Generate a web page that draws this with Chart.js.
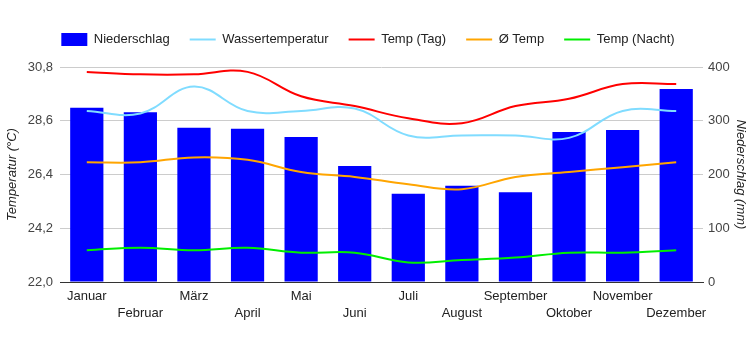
<!DOCTYPE html>
<html>
<head>
<meta charset="utf-8">
<script src="https://cdn.jsdelivr.net/npm/chart.js@4/dist/chart.umd.min.js"></script>
<style>
  html, body { margin: 0; padding: 0; background: #fff; }
  #wrap { width: 750px; height: 350px; }
</style>
</head>
<body>
<div id="wrap"><canvas id="klima"></canvas></div>
<script>
// Daten
const monate = ['Januar', 'Februar', 'März', 'April', 'Mai', 'Juni', 'Juli', 'August', 'September', 'Oktober', 'November', 'Dezember'];
const niederschlag = [324, 316, 287, 285, 270, 216, 164, 179, 167, 279, 283, 359];
const wassertemp = [29.0, 28.9, 30.0, 29.0, 29.0, 29.1, 28.0, 28.0, 28.0, 27.9, 29.0, 29.0];
const tempTag = [30.6, 30.5, 30.5, 30.6, 29.6, 29.2, 28.7, 28.5, 29.2, 29.5, 30.1, 30.1];
const tempMittel = [26.9, 26.9, 27.1, 27.0, 26.5, 26.3, 26.0, 25.8, 26.3, 26.5, 26.7, 26.9];
const tempNacht = [23.3, 23.4, 23.3, 23.4, 23.2, 23.2, 22.8, 22.9, 23.0, 23.2, 23.2, 23.3];
const tempTicks = [22.0, 24.2, 26.4, 28.6, 30.8];
const mmTicks = [0, 100, 200, 300, 400];

const schrift = 'Arial, "Liberation Sans", sans-serif';

function linie(label, data, farbe) {
    return {
        type: 'line',
        label: label,
        data: data,
        yAxisID: 'yTemp',
        borderColor: farbe,
        backgroundColor: farbe,
        borderWidth: 2,
        pointRadius: 0,
        pointStyle: 'line',
        tension: 0.4,
        order: 1
    };
}

// etwas mehr Abstand unter der Legende, Legende leicht nach links
const legendeAbstand = {
    id: 'legendeAbstand',
    beforeInit(chart) {
        const fit = chart.legend.fit;
        chart.legend.fit = function () {
            fit.call(this);
            this.height += 11;
        };
    },
    afterLayout(chart) {
        chart.legend.left -= 7;
        chart.legend.right -= 7;
    }
};

document.addEventListener('DOMContentLoaded', () => {
    const ctx = document.getElementById('klima').getContext('2d');

    new Chart(ctx, {
        data: {
            labels: monate,
            datasets: [
                {
                    type: 'bar',
                    label: 'Niederschlag',
                    data: niederschlag,
                    yAxisID: 'yMm',
                    backgroundColor: '#0000ff',
                    borderColor: '#0000ff',
                    borderWidth: 0,
                    pointStyle: 'rect',
                    barPercentage: 0.62,
                    categoryPercentage: 1,
                    order: 2
                },
                linie('Wassertemperatur', wassertemp, '#80dcff'),
                linie('Temp (Tag)', tempTag, '#ff0000'),
                linie('Ø Temp', tempMittel, '#ffa500'),
                linie('Temp (Nacht)', tempNacht, '#00ee00')
            ]
        },
        plugins: [legendeAbstand],
        options: {
            responsive: true,
            maintainAspectRatio: false,
            animation: false,
            layout: { padding: { top: 13, left: 0, right: 0, bottom: 0 } },
            font: { family: schrift },
            plugins: {
                tooltip: { enabled: false },
                legend: {
                    position: 'top',
                    labels: {
                        usePointStyle: true,
                        pointStyleWidth: 26,
                        boxHeight: 13,
                        padding: 20,
                        color: '#222',
                        font: { family: schrift, size: 13 },
                        sort: (a, b) => a.datasetIndex - b.datasetIndex
                    }
                }
            },
            scales: {
                x: {
                    grid: { display: false, drawTicks: false },
                    border: { color: '#333', width: 1 },
                    ticks: {
                        autoSkip: false,
                        maxRotation: 0,
                        padding: 6,
                        color: '#222',
                        font: { family: schrift, size: 13, lineHeight: 1.3 },
                        callback: (v, i) => i % 2 === 0 ? [monate[i], ''] : ['', monate[i]]
                    },
                    afterFit: s => { s.height = 68; }
                },
                yTemp: {
                    position: 'left',
                    min: 22,
                    max: 30.8,
                    afterBuildTicks: s => { s.ticks = tempTicks.map(v => ({ value: v })); },
                    grid: { color: '#cccccc', drawTicks: false },
                    border: { display: false },
                    ticks: {
                        padding: 7,
                        color: '#444',
                        font: { family: schrift, size: 13 },
                        callback: v => v.toFixed(1).replace('.', ',')
                    },
                    title: {
                        display: true,
                        text: 'Temperatur (°C)',
                        color: '#222',
                        padding: { top: 5, bottom: 0 },
                        font: { family: schrift, size: 13, style: 'italic' }
                    },
                    afterFit: s => { s.width = 60; }
                },
                yMm: {
                    position: 'right',
                    min: 0,
                    max: 400,
                    afterBuildTicks: s => { s.ticks = mmTicks.map(v => ({ value: v })); },
                    grid: { drawOnChartArea: false, drawTicks: false },
                    border: { display: false },
                    ticks: {
                        padding: 5,
                        color: '#444',
                        font: { family: schrift, size: 13 }
                    },
                    title: {
                        display: true,
                        text: 'Niederschlag (mm)',
                        color: '#222',
                        padding: { top: 2, bottom: 0 },
                        font: { family: schrift, size: 13, style: 'italic' }
                    },
                    afterFit: s => { s.width = 47; }
                }
            }
        }
    });
});
</script>
</body>
</html>
